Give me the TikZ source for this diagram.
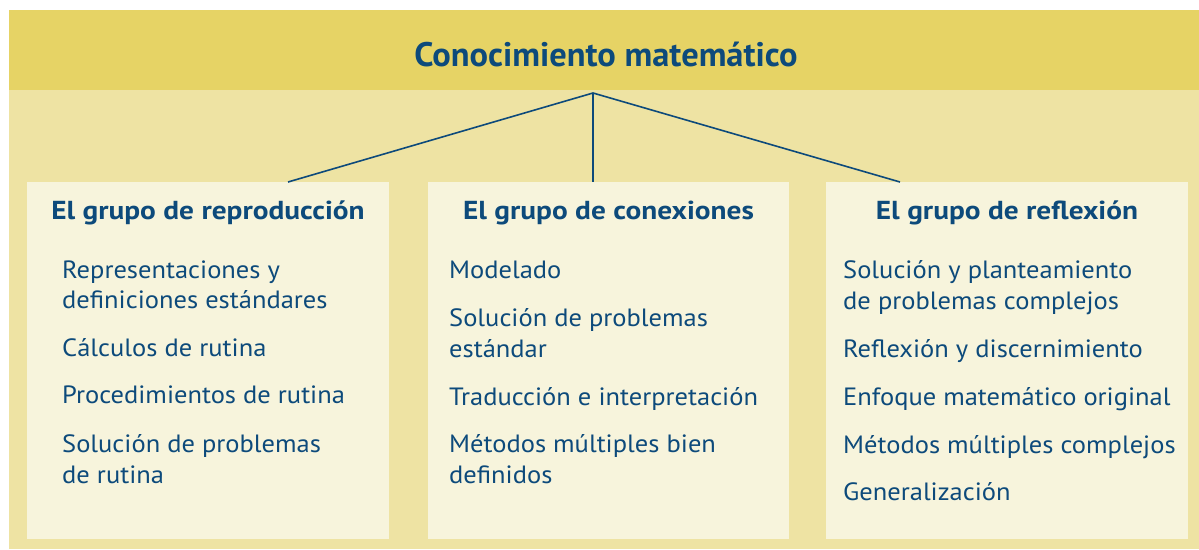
\documentclass[tikz,border=0pt]{standalone}
\usepackage{fontspec}
\setmainfont{PT Sans}
\newfontfamily\bodyfont[FakeStretch=1.06]{PT Sans}
\newfontfamily\headfont[FakeStretch=1.128]{PT Sans}
\newfontfamily\titlefont[FakeStretch=1.013]{PT Sans}
\definecolor{band}{HTML}{E6D365}
\definecolor{panel}{HTML}{EEE3A3}
\definecolor{boxfill}{HTML}{F7F4DC}
\definecolor{ink}{HTML}{0D4A7B}
\begin{document}
\begin{tikzpicture}[x=1pt,y=-1pt,
  titletext/.style={inner sep=0pt,text=ink,font=\titlefont\fontsize{34}{36}\selectfont\bfseries},
  headtext/.style={inner sep=0pt,text=ink,anchor=base,font=\headfont\fontsize{26}{30}\selectfont\bfseries},
  itemtext/.style={inner sep=0pt,text=ink,anchor=base west,font=\bodyfont\fontsize{25}{30}\selectfont},
  groupbox/.style={fill=boxfill,draw=none},
  conn/.style={draw=ink,line width=1.6pt}]
\useasboundingbox (0,0) rectangle (1199,549);
\fill[white] (0,0) rectangle (1199,549);
\fill[panel] (9,10) rectangle (1199,549);
\fill[band] (9,10) rectangle (1199,90);
\node[titletext,anchor=base] (title) at (606,66) {Conocimiento matemático};
\coordinate (apex) at (593,93);
% boxes
\path[groupbox] (27,182) rectangle (389,539);
\path[groupbox] (428,182) rectangle (789,539);
\path[groupbox] (826,182) rectangle (1188,539);
\coordinate (e1) at (288,182);
\coordinate (e2) at (593,182);
\coordinate (e3) at (900,182);
\draw[conn] (e1) -- (apex) -- (e3);
\draw[conn,line width=2.6pt] (apex) -- (e2);
% headings
\node[headtext] (h1) at (208,219) {El grupo de reproducción};
\node[headtext] (h2) at (608.5,219) {El grupo de conexiones};
\node[headtext] (h3) at (1007,219) {El grupo de reflexión};
% column 1
\node[itemtext] (a1) at (62,278) {Representaciones y};
\node[itemtext] (a1b) at (62,308) {definiciones estándares};
\node[itemtext] (a2) at (62,356) {Cálculos de rutina};
\node[itemtext] (a3) at (62,403) {Procedimientos de rutina};
\node[itemtext] (a4) at (62,452) {Solución de problemas};
\node[itemtext] (a4b) at (62,483) {de rutina};
% column 2
\node[itemtext] (b1) at (449,278) {Modelado};
\node[itemtext] (b2) at (449,326) {Solución de problemas};
\node[itemtext] (b2b) at (449,357) {estándar};
\node[itemtext] (b3) at (449,405) {Traducción e interpretación};
\node[itemtext] (b4) at (449,452) {Métodos múltiples bien};
\node[itemtext] (b4b) at (449,483) {definidos};
% column 3
\node[itemtext] (c1) at (843,278) {Solución y planteamiento};
\node[itemtext] (c1b) at (843,309) {de problemas complejos};
\node[itemtext] (c2) at (843,357) {Reflexión y discernimiento};
\node[itemtext] (c3) at (843,405) {Enfoque matemático original};
\node[itemtext] (c4) at (843,453) {Métodos múltiples complejos};
\node[itemtext] (c5) at (843,500) {Generalización};
\end{tikzpicture}
\end{document}
